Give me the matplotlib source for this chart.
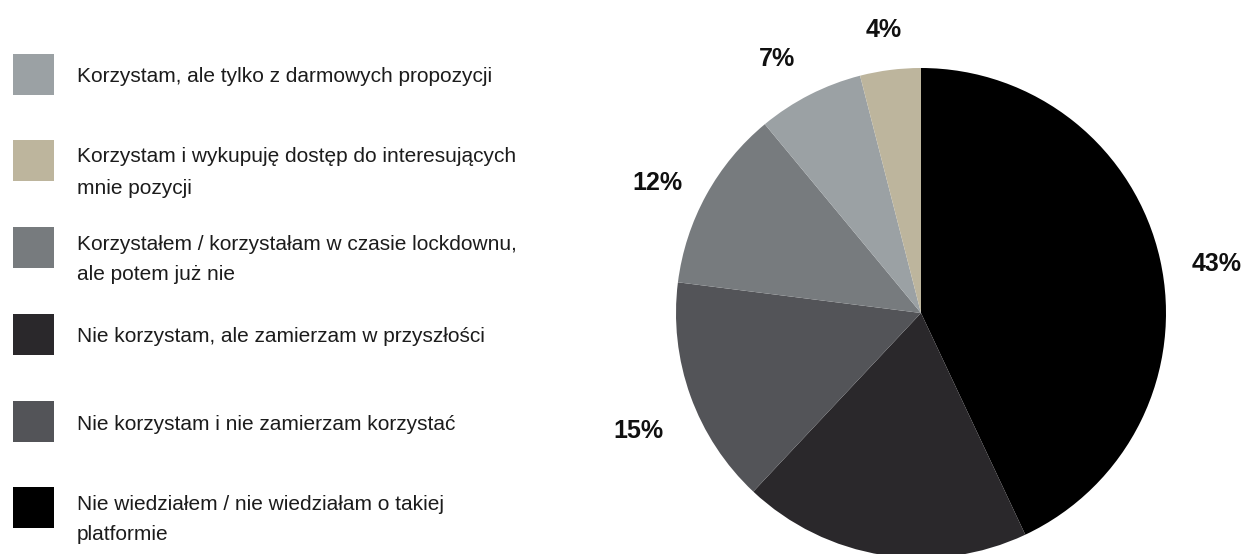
import numpy as np
import matplotlib.pyplot as plt
from matplotlib.patches import Rectangle

plt.rcParams['font.family'] = ['Liberation Sans', 'DejaVu Sans']

# answers in legend order
labels = [
    "Korzystam, ale tylko z darmowych propozycji",
    "Korzystam i wykupuję dostęp do interesujących\nmnie pozycji",
    "Korzystałem / korzystałam w czasie lockdownu,\nale potem już nie",
    "Nie korzystam, ale zamierzam w przyszłości",
    "Nie korzystam i nie zamierzam korzystać",
    "Nie wiedziałem / nie wiedziałam o takiej\nplatformie",
]
shares = [7, 4, 12, 19, 15, 43]
colors = ["#9ba1a4", "#bdb59d", "#777b7e", "#2a282b", "#535458", "#000000"]

# order of slices clockwise from 12 o'clock
pie_order = [5, 3, 4, 2, 0, 1]
pie_vals = [shares[i] for i in pie_order]
pie_cols = [colors[i] for i in pie_order]

# label placement per slice: radial distance and angle nudge (deg)
lab_dist = [1.225, None, 1.25, 1.2, 1.19, 1.165]
lab_nudge = [-3.2, 0, 2.8, 2.6, 2.6, 0.4]

W, H = 1247, 554
fig = plt.figure(figsize=(W / 100, H / 100), dpi=100)

# pie
cx, cy, r = 921, 313, 245
ax = fig.add_axes([(cx - r) / W, (H - cy - r) / H, 2 * r / W, 2 * r / H])
wedges, _ = ax.pie(pie_vals, colors=pie_cols, startangle=90, counterclock=False,
                   radius=1, wedgeprops=dict(linewidth=0))
for w, v, d, nud in zip(wedges, pie_vals, lab_dist, lab_nudge):
    if d is None:
        continue  # this label falls below the bottom edge
    ang = np.deg2rad((w.theta1 + w.theta2) / 2 + nud)
    ax.text(d * np.cos(ang), d * np.sin(ang), f"{v}%", ha='center', va='center',
            fontsize=18, fontweight='bold', color='#101010')
ax.set_xlim(-1, 1)
ax.set_ylim(-1, 1)
ax.set_aspect('equal')
ax.axis('off')

# legend: boxes plus text lines drawn by baseline
box_top = [54, 140, 227, 314, 401, 487]
box = 41
for lab, col, top in zip(labels, colors, box_top):
    fig.patches.append(Rectangle((13 / W, (H - top - box) / H), box / W, box / H,
                                 facecolor=col, edgecolor='none',
                                 transform=fig.transFigure, figure=fig))
    lines = lab.split("\n")
    mid = top + box / 2
    base = mid + 8 if len(lines) == 1 else mid + 2
    for k, line in enumerate(lines):
        fig.text(77 / W, (H - base - 31 * k) / H, line, fontsize=15,
                 va='baseline', ha='left', color='#1c1c1c')

fig.savefig("out.png", dpi=100, facecolor='white')
